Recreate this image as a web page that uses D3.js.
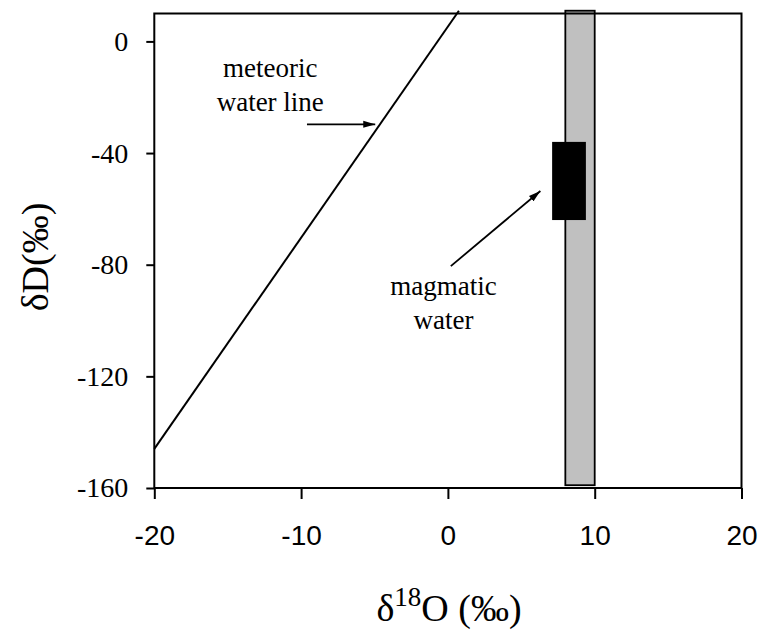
<!DOCTYPE html>
<html>
<head>
<meta charset="utf-8">
<script src="https://cdn.jsdelivr.net/npm/d3@7"></script>
<style>
  body { margin: 0; background: #fff; }
  svg { display: block; }
</style>
</head>
<body>
<svg id="chart" width="762" height="632"></svg>
<script>
// ---- Data ----
const xTicks = [-20, -10, 0, 10, 20];
const yTicks = [0, -40, -80, -120, -160];
const meteoricLine = [[-20, -146], [0.75, 11]];
const grayBarX = [8, 10];
const grayBarY = [-159, 11];
const magmaticX = [7.1, 9.4];
const magmaticY = [-64, -36];
const meteoricArrow = [[-9.6, -29.7], [-4.95, -29.7]];
const magmaticArrow = [[0.2, -80.5], [6.3, -53.6]];
const meteoricLabel = ["meteoric", "water line"];
const magmaticLabel = ["magmatic", "water"];

// ---- Layout ----
const plotLeft = 154.3, plotRight = 741.5, plotTop = 13.5, plotBottom = 488;
const SERIF = '"Liberation Serif", "Times New Roman", Times, serif';
const SANS = '"Liberation Sans", Arial, Helvetica, sans-serif';

const svg = d3.select("#chart");
const x = d3.scaleLinear().domain([-20, 20]).range([plotLeft, plotRight]);
const y = d3.scaleLinear().domain([-160, 10]).range([plotBottom, plotTop]);

svg.append("defs").append("marker")
  .attr("id", "head")
  .attr("markerUnits", "userSpaceOnUse")
  .attr("viewBox", "0 0 12 8")
  .attr("refX", 12).attr("refY", 4)
  .attr("markerWidth", 12).attr("markerHeight", 8)
  .attr("orient", "auto")
  .append("path")
  .attr("d", "M0,0.5 L12,4 L0,7.5 Z")
  .attr("fill", "#000");

// ---- Gray band + magmatic box ----
svg.append("rect")
  .attr("x", x(grayBarX[0])).attr("width", x(grayBarX[1]) - x(grayBarX[0]))
  .attr("y", y(grayBarY[1])).attr("height", y(grayBarY[0]) - y(grayBarY[1]))
  .attr("fill", "#c0c0c0").attr("stroke", "#000").attr("stroke-width", 1.8);

svg.append("rect")
  .attr("x", x(magmaticX[0])).attr("width", x(magmaticX[1]) - x(magmaticX[0]))
  .attr("y", y(magmaticY[1])).attr("height", y(magmaticY[0]) - y(magmaticY[1]))
  .attr("fill", "#000");

// ---- Frame ----
svg.append("rect")
  .attr("x", plotLeft).attr("y", plotTop)
  .attr("width", plotRight - plotLeft).attr("height", plotBottom - plotTop)
  .attr("fill", "none").attr("stroke", "#000").attr("stroke-width", 2);

// ---- Meteoric water line ----
svg.append("path")
  .datum(meteoricLine)
  .attr("d", d3.line().x(d => x(d[0])).y(d => y(d[1])))
  .attr("fill", "none").attr("stroke", "#000").attr("stroke-width", 2);

// ---- Axes ----
const yAxis = svg.append("g")
  .attr("transform", `translate(${plotLeft},0)`)
  .call(d3.axisLeft(y).tickValues(yTicks).tickFormat(d => String(d))
    .tickSize(8).tickSizeOuter(0).tickPadding(18));
yAxis.select(".domain").remove();
yAxis.selectAll("line").attr("stroke-width", 2);
yAxis.selectAll("text").style("font-family", SERIF).style("font-size", "28px").attr("fill", "#000");

const xAxis = svg.append("g")
  .attr("transform", `translate(0,${plotBottom})`)
  .call(d3.axisBottom(x).tickValues(xTicks).tickFormat(d => String(d))
    .tickSize(11).tickSizeOuter(0).tickPadding(6));
xAxis.select(".domain").remove();
xAxis.selectAll("line").attr("stroke-width", 2);
xAxis.selectAll("text").style("font-family", SANS).style("font-size", "28px").attr("fill", "#000")
  .attr("dy", null).attr("y", 57);

// ---- Axis titles ----
svg.append("text")
  .attr("transform", "translate(48,257) rotate(-90)")
  .attr("text-anchor", "middle")
  .style("font-family", SERIF).style("font-size", "38px")
  .text("δD(‰)");

const xt = svg.append("text")
  .attr("x", 449).attr("y", 621)
  .attr("text-anchor", "middle")
  .style("font-family", SERIF).style("font-size", "38px");
xt.append("tspan").text("δ");
xt.append("tspan").style("font-size", "27px").attr("dy", -15).text("18");
xt.append("tspan").attr("dy", 15).text("O (‰)");

// ---- Annotations ----
function label(lines, cx, baseline) {
  svg.append("g").selectAll("text").data(lines).join("text")
    .attr("x", cx).attr("y", (d, i) => baseline + i * 34)
    .attr("text-anchor", "middle")
    .style("font-family", SERIF).style("font-size", "27px")
    .text(d => d);
}
label(meteoricLabel, x(-12.1), 77);
label(magmaticLabel, x(-0.3), 295);

[meteoricArrow, magmaticArrow].forEach(a => {
  svg.append("line")
    .attr("x1", x(a[0][0])).attr("y1", y(a[0][1]))
    .attr("x2", x(a[1][0])).attr("y2", y(a[1][1]))
    .attr("stroke", "#000").attr("stroke-width", 1.8)
    .attr("marker-end", "url(#head)");
});
</script>
</body>
</html>
